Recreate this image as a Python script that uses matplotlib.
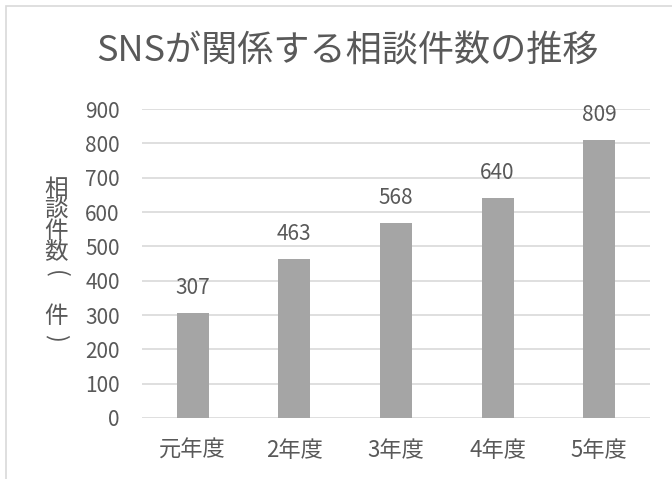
import matplotlib

matplotlib.use("Agg")
import matplotlib.pyplot as plt
from matplotlib.patches import Rectangle

plt.rcParams["font.family"] = ["Noto Sans CJK JP", "DejaVu Sans"]

TITLE = "SNSが関係する相談件数の推移"
# axis title is written vertically; the slot is the character cell it occupies
YLABEL_CHARS = ["相", "談", "件", "数", "(", "件", ")"]
YLABEL_SLOTS = [0, 1, 2, 3, 4, 6, 7]
CATEGORIES = ["元年度", "2年度", "3年度", "4年度", "5年度"]
COUNTS = [307, 463, 568, 640, 809]
YTICKS = [0, 100, 200, 300, 400, 500, 600, 700, 800, 900]

TEXT = "#595959"
BAR = "#a5a5a5"
GRID = "#d9d9d9"


def main():
    fig = plt.figure(figsize=(6.72, 4.79), dpi=100)
    W, H = 672, 479

    # chart frame, cropped on the right and bottom like the reference
    fig.patches.append(
        Rectangle((6 / W, -0.1), 1.2, 1 - 6 / H + 0.1, transform=fig.transFigure,
                  fill=False, edgecolor=GRID, linewidth=1.2)
    )

    ax = fig.add_axes([142 / W, 1 - 418 / H, (650 - 142) / W, (418 - 109) / H])
    x = range(len(CATEGORIES))
    bars = ax.bar(x, COUNTS, width=0.315, color=BAR, zorder=2)
    ax.set_xlim(-0.5, len(CATEGORIES) - 0.5)
    ax.set_ylim(0, 900)
    ax.set_yticks(YTICKS)
    ax.set_xticks(list(x), CATEGORIES)
    ax.grid(axis="y", color=GRID, linewidth=1.2, zorder=0)
    for side in ["top", "right", "left", "bottom"]:
        ax.spines[side].set_visible(False)
    ax.tick_params(axis="both", length=0, colors=TEXT, labelsize=15)
    ax.tick_params(axis="y", pad=16)
    ax.tick_params(axis="x", pad=15, labelsize=16)

    for rect, value in zip(bars, COUNTS):
        ax.annotate(f"{value}", (rect.get_x() + rect.get_width() / 2, value),
                    xytext=(0, 10), textcoords="offset points",
                    ha="center", va="bottom", fontsize=15, color=TEXT)

    fig.text(347 / W, 1 - 52 / H, TITLE, ha="center", va="center",
             fontsize=26, color=TEXT)

    # vertical axis title, one character per cell; brackets turned on their side
    top, step = 189, 21.3
    for ch, slot in zip(YLABEL_CHARS, YLABEL_SLOTS):
        rot = -90 if ch in "()" else 0
        fig.text(56 / W, 1 - (top + slot * step) / H, ch, ha="center",
                 va="center", fontsize=17, color=TEXT, rotation=rot)

    fig.savefig("out.png", dpi=100)


if __name__ == "__main__":
    main()
